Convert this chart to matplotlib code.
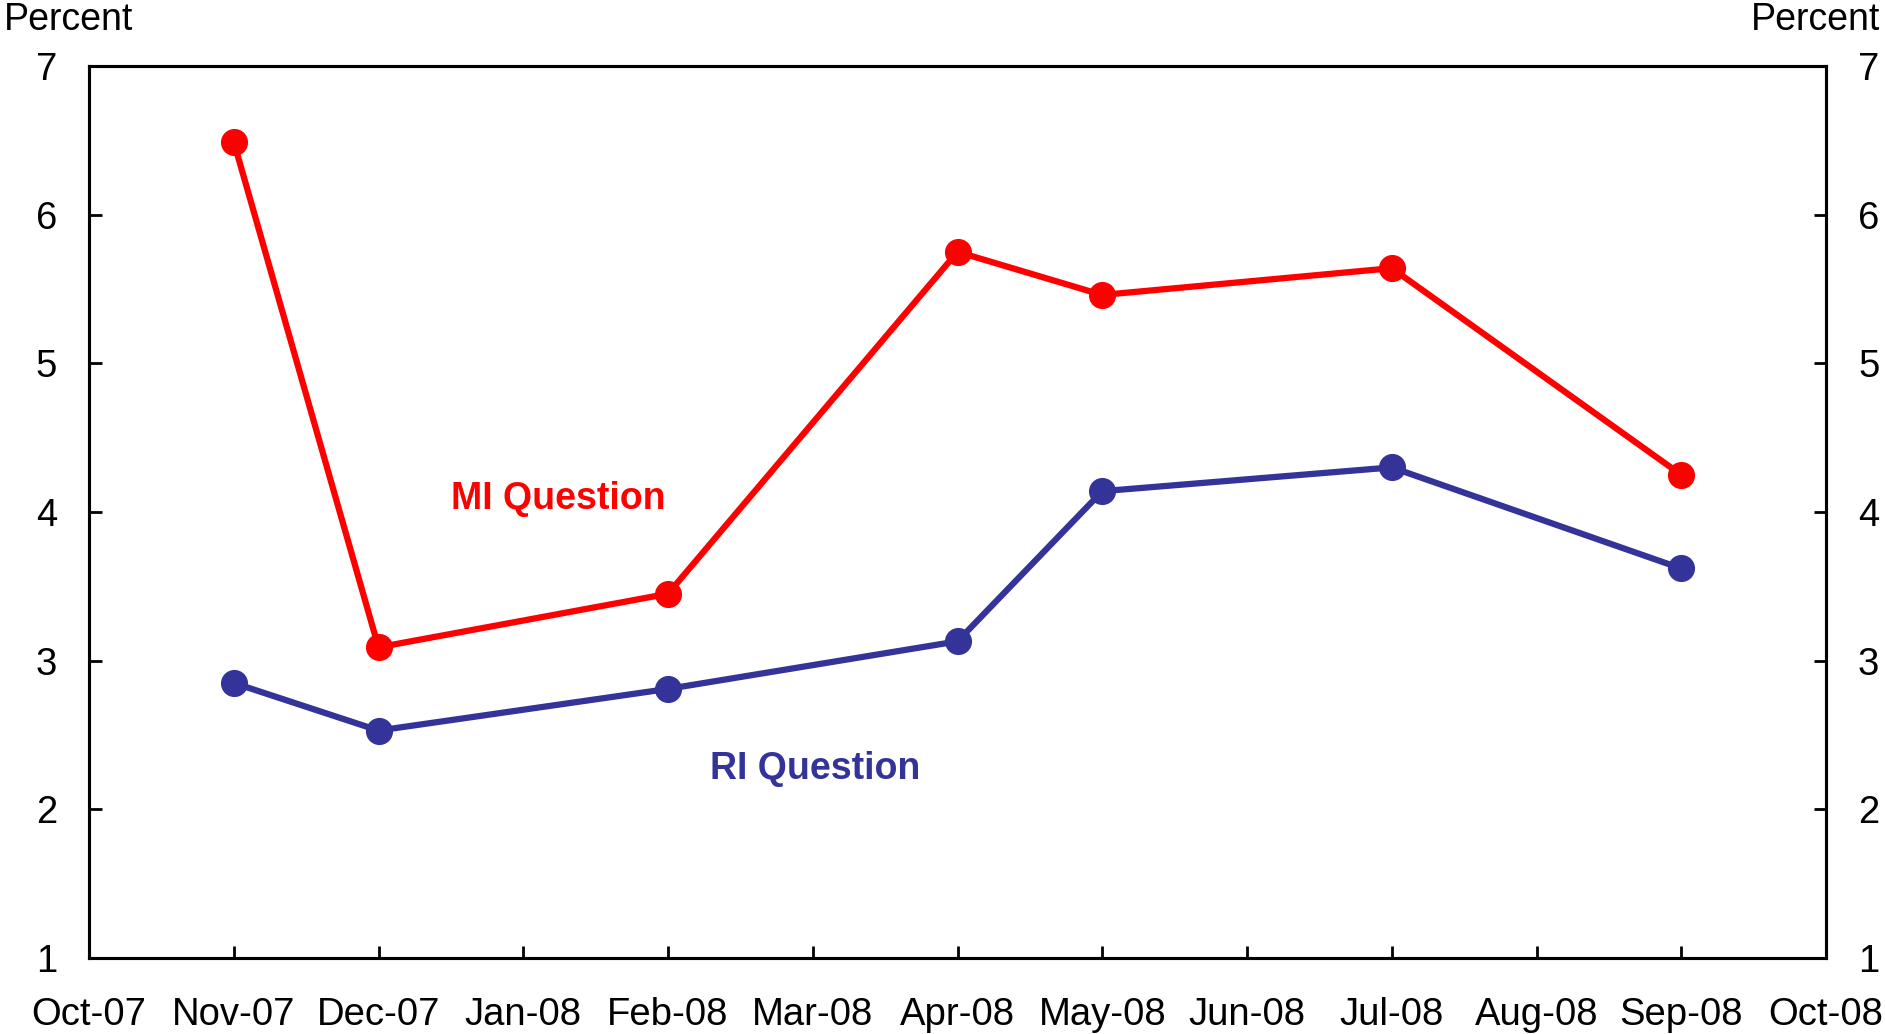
import matplotlib.pyplot as plt
import numpy as np

plt.rcParams['font.family'] = ['Liberation Sans', 'DejaVu Sans']

months = ['Oct-07', 'Nov-07', 'Dec-07', 'Jan-08', 'Feb-08', 'Mar-08', 'Apr-08',
          'May-08', 'Jun-08', 'Jul-08', 'Aug-08', 'Sep-08', 'Oct-08']
survey_months = ['Nov-07', 'Dec-07', 'Feb-08', 'Apr-08', 'May-08', 'Jul-08', 'Sep-08']
mi_question = [6.49, 3.09, 3.45, 5.75, 5.46, 5.64, 4.25]
ri_question = [2.85, 2.53, 2.81, 3.13, 4.14, 4.30, 3.62]

red = '#FF0000'
blue = '#333399'

x = np.array([months.index(m) for m in survey_months])

fig = plt.figure(figsize=(18.85, 10.34), dpi=100)
ax = fig.add_axes([89/1885, 76/1034, 1737/1885, 892/1034])

ax.plot(x, mi_question, color=red, lw=4.5, marker='o', ms=18.5, zorder=3)
ax.plot(x, ri_question, color=blue, lw=4.5, marker='o', ms=18.5, zorder=3)

ax.text(3.24, 4.09, 'MI Question', color=red, fontsize=27, fontweight='bold',
        ha='center', va='center')
ax.text(5.02, 2.27, 'RI Question', color=blue, fontsize=27, fontweight='bold',
        ha='center', va='center')

ax.set_xlim(0, len(months) - 1)
ax.set_ylim(1, 7)
ax.set_xticks(np.arange(len(months)))
ax.set_xticklabels(months)
ax.set_yticks(np.arange(1, 8))

ax2 = ax.twinx()
ax2.set_ylim(1, 7)
ax2.set_yticks(np.arange(1, 8))

for a in (ax, ax2):
    for s in a.spines.values():
        s.set_linewidth(2.2)
    a.tick_params(direction='in', length=9, width=2, labelsize=27.5, pad=23)
ax.tick_params(axis='x', pad=28)

fig.text(0.002, 1 - 30/1034, 'Percent', fontsize=27, ha='left', va='baseline')
fig.text(1880/1885, 1 - 30/1034, 'Percent', fontsize=27, ha='right', va='baseline')

fig.savefig('out.png', dpi=100)
plt.close()
